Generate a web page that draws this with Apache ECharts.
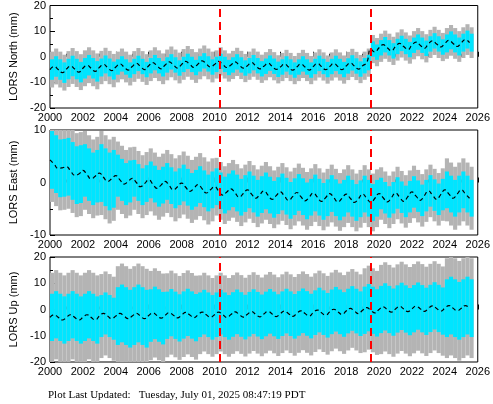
<!DOCTYPE html>
<html>
<head>
<meta charset="utf-8">
<script src="https://cdn.jsdelivr.net/npm/echarts@6/dist/echarts.min.js"></script>
<style>
  html, body { margin: 0; padding: 0; background: #fff; }
  #chart { width: 493px; height: 404px; }
</style>
</head>
<body>
<div id="chart"></div>
<script>
// quarterly model values, 2000.0 .. 2025.5
const northModel = [
  -5,-3.8,-5,-6.2, -4.8,-3.6,-4.8,-6, -4.5,-3.3,-4.5,-5.7, -4.2,-3,-4.2,-5.4,
  -4,-2.8,-4,-5.2, -3.8,-2.6,-3.8,-5, -3.5,-2.3,-3.5,-4.7, -3.2,-2,-3.2,-4.4,
  -3,-1.8,-3,-4.2, -2.8,-1.6,-2.8,-4, -3,-1.8,-3,-4.2, -3.2,-2,-3.2,-4.4,
  -3.5,-2.3,-3.5,-4.7, -3.7,-2.5,-3.7,-4.9, -4,-2.8,-4,-5.2, -4,-2.8,-4,-5.2,
  -3.8,-2.6,-3.8,-5, -3.8,-2.6,-3.8,-5, -3.6,-2.4,-3.6,-4.8, -3.5,-2.3,3,1.8,
  3.5,4.7,3.5,2.3, 4,5.2,4,2.8, 4.5,5.7,4.5,3.3, 5,6.2,5,3.8,
  5.2,6.4,5.2,4, 5.5,6.7,5.5
];
const eastModel = [
  4.3,3.5,2.7,2.8, 3,2.2,1.4,1.6, 2.3,1.5,0.7,1.2, 1.8,1,0.2,0.7,
  1.3,0.5,-0.3,0.2, 0.8,0,-0.8,-0.2, 0.5,-0.3,-1.1,-0.5, 0.2,-0.6,-1.4,-0.8,
  -0.1,-0.9,-1.7,-1.1, -0.4,-1.2,-2,-1.4, -0.8,-1.6,-2.4,-1.8, -1.2,-2,-2.8,-2.1,
  -1.4,-2.2,-3,-2.3, -1.6,-2.4,-3.2,-2.5, -1.8,-2.6,-3.4,-2.7, -1.9,-2.7,-3.5,-2.8,
  -2,-2.8,-3.6,-2.9, -2.1,-2.9,-3.7,-3, -2.2,-3,-3.8,-3.1, -2.2,-3,-3.8,-3,
  -2.1,-2.9,-3.7,-2.9, -2,-2.8,-3.6,-2.7, -1.8,-2.6,-3.4,-2.5, -1.6,-2.4,-3.2,-2.3,
  -1.4,-2.2,-3,-2.2, -1.4,-2.2,-3
];
const upModel = [
  -3,-2,-3,-4, -3,-2,-3,-4, -3,-2,-3,-4, -2.5,-1.5,-2.5,-3.5,
  -2.5,-1.5,-2.5,-3.5, -2.5,-1.5,-2.5,-3.5, -2.3,-1.3,-2.3,-3.3, -2.2,-1.2,-2.2,-3.2,
  -2.1,-1.1,-2.1,-3.1, -2,-1,-2,-3, -2,-1,-2,-3, -1.9,-0.9,-1.9,-2.9,
  -1.8,-0.8,-1.8,-2.8, -1.7,-0.7,-1.7,-2.7, -1.6,-0.6,-1.6,-2.6, -1.5,-0.5,-1.5,-2.5,
  -1.2,-0.2,-1.2,-2.2, -0.9,0.1,-0.9,-1.9, -0.6,0.4,-0.6,-1.6, -0.3,0.7,-0.3,-1.3,
  0,1,0,-1, 0.2,1.2,0.2,-0.8, 0.3,1.3,0.3,-0.7, 0.4,1.4,0.4,-0.6,
  0.5,1.5,0.5,-0.5, 0.5,1.5,0.5
];
// yearly half-widths: cyan scatter and grey error bars, 2000..2025
const northSpread = [4,4,4,3.5,3,3,3,3,3,3,3,3,3,3,3,3,3,3,3,3,3,3,3,3,3.5,3.5];
const northErr    = [7,7,7,6.5,6,6,6,6,6,6,5.5,5.5,5.5,5.5,5.5,5.5,5.5,5.5,5.5,5.5,5.5,5.5,5.5,5.5,6,6];
const eastSpread  = [5.5,5.5,5,5.5,4,3.5,3.5,3.5,3.5,3.5,3.5,3.5,3.5,3.5,3.5,3.5,3.5,3.5,3.5,3.5,3,3,3,3,3.5,3.5];
const eastErr     = [8,8,7.5,8,6.5,6,6,6,6,6,5.5,5.5,5.5,5.5,5.5,5.5,5.5,5.5,5.5,5.5,5,5,5,5,6,6];
const upSpread    = [9,9,9,8,11,11,10,9,9,8.5,8.5,8.5,8.5,8.5,8.5,8.5,8.5,8.5,8.5,9,9,9,9,9,11,11];
const upErr       = [17,17,17,16,19,19,17,16,16,15,15,15,15,15,15,15,15,15,15,16,17,17,17,17,19,19];
const eventYears = [2010.3, 2019.5];

const chart = echarts.init(document.getElementById('chart'), null, {renderer: 'canvas'});

const panels = [
  {name: 'LORS North (mm)', model: northModel, spread: northSpread, err: northErr, min: -20, max: 20, top: 5, bottom: 108},
  {name: 'LORS East (mm)', model: eastModel, spread: eastSpread, err: eastErr, min: -10, max: 10, top: 130, bottom: 235},
  {name: 'LORS Up (mm)', model: upModel, spread: upSpread, err: upErr, min: -20, max: 20, top: 257, bottom: 362}
];

const grids = [], xAxes = [], yAxes = [], series = [];
const font = 'Liberation Sans, Arial, sans-serif';

function bandSeries(p, i, key, color) {
  const data = p.model.map((v, k) => {
    const t = 2000 + k * 0.25;
    const w = p[key][Math.floor(k / 4)];
    return [t, t + 0.25, v - w, v + w];
  });
  return {
    type: 'custom', xAxisIndex: i, yAxisIndex: i, silent: true,
    data: data,
    renderItem: (params, api) => {
      const a = api.coord([api.value(0), api.value(3)]);
      const b = api.coord([api.value(1), api.value(2)]);
      const shape = echarts.graphic.clipRectByRect(
        {x: a[0], y: a[1], width: b[0] - a[0], height: b[1] - a[1]},
        {x: params.coordSys.x, y: params.coordSys.y, width: params.coordSys.width, height: params.coordSys.height}
      );
      return shape && {type: 'rect', shape: shape, style: {fill: color}};
    }
  };
}

panels.forEach((p, i) => {
  grids.push({left: 50, right: 7, top: p.top, height: p.bottom - p.top, show: true, borderColor: '#000', borderWidth: 1});
  xAxes.push({
    type: 'value', gridIndex: i, min: 2000, max: 2026, interval: 2,
    axisLine: {show: false}, axisTick: {inside: true, length: 5, lineStyle: {color: '#000'}},
    minorTick: {show: true, splitNumber: 2, length: 3, lineStyle: {color: '#000'}},
    splitLine: {show: false},
    axisLabel: {color: '#000', fontFamily: font, fontSize: 11, margin: 4, formatter: v => String(v)}
  });
  yAxes.push({
    type: 'value', gridIndex: i, min: p.min, max: p.max, interval: 10,
    name: p.name, nameLocation: 'middle', nameGap: 22, nameRotate: 90,
    nameTextStyle: {color: '#000', fontFamily: font, fontSize: 11},
    axisLine: {show: false}, axisTick: {inside: true, length: 5, lineStyle: {color: '#000'}},
    minorTick: {show: true, splitNumber: 2, length: 3, lineStyle: {color: '#000'}},
    splitLine: {show: false},
    axisLabel: {color: '#000', fontFamily: font, fontSize: 11, margin: 4}
  });
  series.push(bandSeries(p, i, 'err', '#b4b4b4'));
  series.push(bandSeries(p, i, 'spread', '#00e5ff'));
  series.push({
    type: 'line', xAxisIndex: i, yAxisIndex: i, symbol: 'none', smooth: true,
    data: p.model.map((v, k) => [2000 + k * 0.25, v]),
    lineStyle: {color: '#000', width: 1.2, type: [4, 3]},
    markLine: {
      silent: true, symbol: 'none', label: {show: false},
      lineStyle: {color: '#ff0000', width: 2, type: [8, 5]},
      data: eventYears.map(y => ({xAxis: y}))
    }
  });
});

chart.setOption({
  animation: false,
  backgroundColor: '#fff',
  grid: grids, xAxis: xAxes, yAxis: yAxes, series: series,
  graphic: [{
    type: 'text', left: 48, top: 390,
    style: {text: 'Plot Last Updated:   Tuesday, July 01, 2025 08:47:19 PDT', fill: '#000',
      font: '11px "Liberation Serif", "Times New Roman", serif'}
  }]
});
</script>
</body>
</html>
